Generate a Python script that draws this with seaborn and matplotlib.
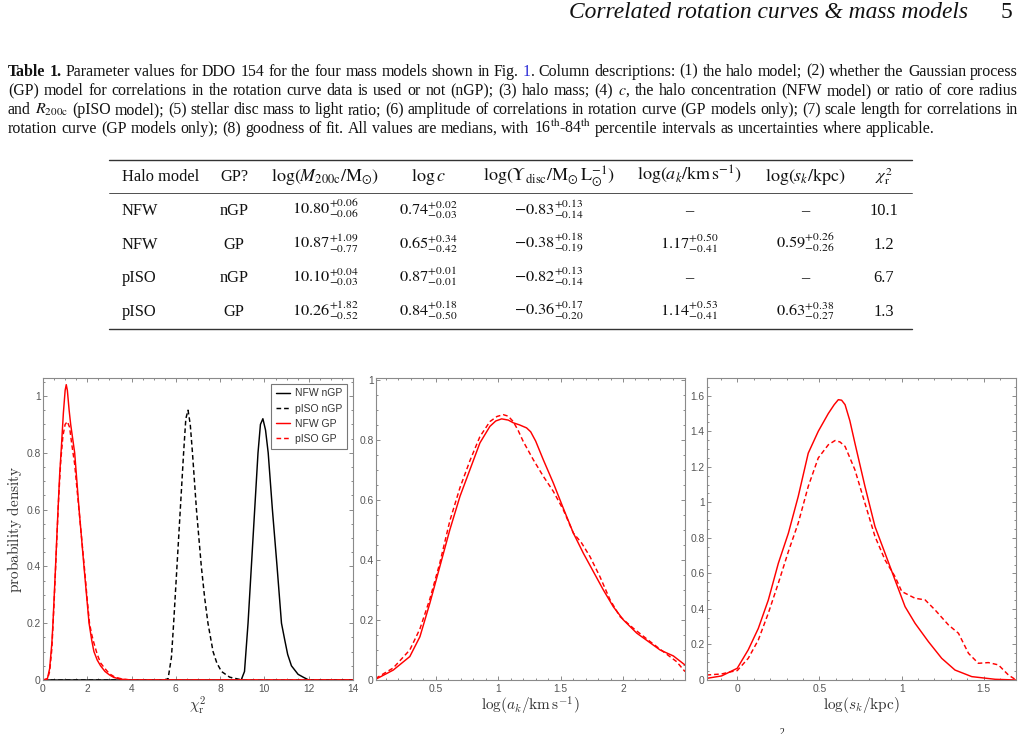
import re
import numpy as np
import pandas as pd
import matplotlib
matplotlib.use("Agg")
import matplotlib.pyplot as plt
import seaborn as sns
from matplotlib.lines import Line2D
from matplotlib.ticker import MultipleLocator, FuncFormatter

# ---------------------------------------------------------------- data
# Panel 1: posterior of reduced chi^2
chi2_nfw_ngp_x = [0, 8.95, 9.1, 9.26, 9.41, 9.56, 9.71, 9.82, 9.93, 10.05, 10.17, 10.36, 10.57, 10.77, 10.92, 11.05, 11.22, 11.52, 11.75, 12.0, 14]
chi2_nfw_ngp_y = [0, 0, 0.03, 0.2, 0.4, 0.6, 0.8, 0.9, 0.92, 0.88, 0.8, 0.6, 0.4, 0.2, 0.14, 0.09, 0.05, 0.02, 0.01, 0.0, 0]
chi2_piso_ngp_x = [0, 5.5, 5.65, 5.8, 5.9, 6.05, 6.2, 6.35, 6.45, 6.55, 6.65, 6.75, 6.93, 7.15, 7.3, 7.45, 7.68, 7.85, 8.06, 8.43, 9.0, 14]
chi2_piso_ngp_y = [0, 0, 0.005, 0.08, 0.2, 0.4, 0.6, 0.8, 0.92, 0.95, 0.9, 0.8, 0.6, 0.4, 0.29, 0.2, 0.1, 0.06, 0.03, 0.01, 0, 0]
chi2_nfw_gp_x = [0, 0.2, 0.3, 0.4, 0.45, 0.55, 0.65, 0.75, 0.83, 0.92, 1.0, 1.05, 1.1, 1.18, 1.25, 1.43, 1.63, 1.85, 2.08, 2.2, 2.3, 2.45, 2.6, 2.8, 3.0, 3.2, 3.5, 4.0, 14]
chi2_nfw_gp_y = [0, 0.005, 0.04, 0.13, 0.2, 0.37, 0.55, 0.72, 0.82, 0.94, 1.02, 1.04, 1.02, 0.95, 0.9, 0.8, 0.6, 0.4, 0.2, 0.14, 0.1, 0.07, 0.05, 0.03, 0.018, 0.009, 0.003, 0, 0]
chi2_piso_gp_x = [0, 0.2, 0.3, 0.4, 0.5, 0.6, 0.7, 0.8, 0.9, 1.0, 1.1, 1.2, 1.3, 1.43, 1.55, 1.66, 1.78, 1.9, 2.0, 2.1, 2.2, 2.3, 2.45, 2.6, 2.8, 3.0, 3.25, 3.6, 4.0, 14]
chi2_piso_gp_y = [0, 0.003, 0.03, 0.11, 0.27, 0.45, 0.63, 0.77, 0.86, 0.9, 0.91, 0.89, 0.83, 0.76, 0.66, 0.57, 0.47, 0.37, 0.28, 0.2, 0.16, 0.13, 0.09, 0.06, 0.04, 0.022, 0.01, 0.003, 0, 0]

# Panel 2: log(a_k / km s^-1)
ak_nfw_x = [0.016, 0.158, 0.291, 0.372, 0.452, 0.532, 0.612, 0.693, 0.773, 0.853, 0.933, 0.98, 1.027, 1.08, 1.12, 1.17, 1.227, 1.26, 1.3, 1.361, 1.441, 1.521, 1.602, 1.682, 1.762, 1.842, 1.922, 2.003, 2.11, 2.217, 2.297, 2.404, 2.497]
ak_nfw_y = [0.002, 0.033, 0.078, 0.144, 0.256, 0.378, 0.5, 0.611, 0.7, 0.789, 0.844, 0.862, 0.869, 0.865, 0.856, 0.849, 0.839, 0.826, 0.795, 0.733, 0.656, 0.572, 0.489, 0.422, 0.361, 0.3, 0.244, 0.2, 0.156, 0.124, 0.1, 0.08, 0.05]
ak_piso_x = [0.016, 0.158, 0.291, 0.372, 0.452, 0.532, 0.612, 0.693, 0.773, 0.853, 0.933, 0.99, 1.04, 1.08, 1.12, 1.16, 1.2, 1.281, 1.361, 1.441, 1.521, 1.602, 1.668, 1.735, 1.815, 1.896, 1.976, 2.083, 2.217, 2.324, 2.43, 2.497]
ak_piso_y = [0.005, 0.04, 0.1, 0.17, 0.27, 0.39, 0.53, 0.64, 0.73, 0.81, 0.86, 0.877, 0.883, 0.878, 0.86, 0.83, 0.794, 0.733, 0.678, 0.628, 0.567, 0.489, 0.456, 0.411, 0.344, 0.267, 0.211, 0.172, 0.128, 0.094, 0.061, 0.028]

# Panel 3: log(s_k / kpc)
sk_nfw_x = [-0.187, -0.095, 0.0, 0.067, 0.128, 0.189, 0.25, 0.311, 0.371, 0.432, 0.493, 0.554, 0.59, 0.615, 0.635, 0.656, 0.685, 0.716, 0.777, 0.838, 0.899, 0.96, 1.021, 1.082, 1.163, 1.244, 1.325, 1.427, 1.569, 1.697]
sk_nfw_y = [0.009, 0.023, 0.066, 0.17, 0.29, 0.45, 0.657, 0.826, 1.033, 1.277, 1.4, 1.5, 1.55, 1.578, 1.575, 1.55, 1.46, 1.333, 1.09, 0.864, 0.714, 0.563, 0.413, 0.319, 0.216, 0.122, 0.056, 0.019, 0.004, 0.0]
sk_piso_x = [-0.187, -0.095, -0.035, 0.0, 0.067, 0.128, 0.189, 0.25, 0.311, 0.371, 0.432, 0.493, 0.554, 0.595, 0.625, 0.656, 0.716, 0.777, 0.838, 0.899, 0.96, 1.001, 1.082, 1.143, 1.204, 1.285, 1.346, 1.407, 1.467, 1.528, 1.589, 1.65, 1.697]
sk_piso_y = [0.028, 0.034, 0.047, 0.053, 0.122, 0.225, 0.376, 0.545, 0.723, 0.883, 1.09, 1.25, 1.324, 1.348, 1.34, 1.315, 1.183, 0.995, 0.808, 0.676, 0.582, 0.498, 0.46, 0.451, 0.394, 0.31, 0.263, 0.15, 0.094, 0.098, 0.085, 0.028, 0.0]

legend_labels = ["NFW nGP", "pISO nGP", "NFW GP", "pISO GP"]

# Table 1
tab_halo = ["NFW", "NFW", "pISO", "pISO"]
tab_gp = ["nGP", "GP", "nGP", "GP"]
tab_logm_med = ["10.80", "10.87", "10.10", "10.26"]
tab_logm_up = ["0.06", "1.09", "0.04", "1.82"]
tab_logm_lo = ["0.06", "0.77", "0.03", "0.52"]
tab_logc_med = ["0.74", "0.65", "0.87", "0.84"]
tab_logc_up = ["0.02", "0.34", "0.01", "0.18"]
tab_logc_lo = ["0.03", "0.42", "0.01", "0.50"]
tab_logy_med = ["-0.83", "-0.38", "-0.82", "-0.36"]
tab_logy_up = ["0.13", "0.18", "0.13", "0.17"]
tab_logy_lo = ["0.14", "0.19", "0.14", "0.20"]
tab_logak_med = [None, "1.17", None, "1.14"]
tab_logak_up = [None, "0.50", None, "0.53"]
tab_logak_lo = [None, "0.41", None, "0.41"]
tab_logsk_med = [None, "0.59", None, "0.63"]
tab_logsk_up = [None, "0.26", None, "0.38"]
tab_logsk_lo = [None, "0.26", None, "0.27"]
tab_chi2 = ["10.1", "1.2", "6.7", "1.3"]
tab_headers = ["Halo model", "GP?", r"$\log(M_{200\mathrm{c}}/\mathrm{M}_{\odot})$", r"$\log c$",
               r"$\log(\Upsilon_{\mathrm{disc}}/\mathrm{M}_{\odot}\,\mathrm{L}_{\odot}^{-1})$",
               r"$\log(a_k/\mathrm{km\,s}^{-1})$", r"$\log(s_k/\mathrm{kpc})$", r"$\chi^2_{\mathrm{r}}$"]

header_title = "Correlated rotation curves & mass models"
page_number = "5"
caption_lines = [
    "**Table** **1.** Parameter values for DDO 154 for the four mass models shown in Fig. @@1@@. Column descriptions: (1) the halo model; (2) whether the Gaussian process",
    "(GP) model for correlations in the rotation curve data is used or not (nGP); (3) halo mass; (4) $c$, the halo concentration (NFW model) or ratio of core radius",
    "and $R_{\\mathrm{200c}}$ (pISO model); (5) stellar disc mass to light ratio; (6) amplitude of correlations in rotation curve (GP models only); (7) scale length for correlations in",
    "rotation curve (GP models only); (8) goodness of fit. All values are medians, with 16$^{\\mathrm{th}}$-84$^{\\mathrm{th}}$ percentile intervals as uncertainties where applicable.",
]

# ---------------------------------------------------------------- setup
sns.set_theme(style="white")
plt.rcParams['font.family'] = ['Liberation Sans', 'DejaVu Sans']
plt.rcParams['mathtext.fontset'] = 'stix'

W, H = 1025, 734
fig = plt.figure(figsize=(W / 100, H / 100), dpi=100)
fig.patch.set_facecolor('white')
renderer = fig.canvas.get_renderer()
SERIF = ['Liberation Serif', 'DejaVu Serif']
INK = '#111111'


def fx(x):
    return x / W


def fy(y):
    return 1 - y / H


def twidth(t):
    return t.get_window_extent(renderer=renderer).width


def fit_size(s, target, base=10, **kw):
    t = fig.text(0, 0, s, fontsize=base, **kw)
    w = twidth(t)
    t.remove()
    return base * target / w


# ---------------------------------------------------------------- running head
hsize = fit_size(header_title, 401, family=SERIF, style='italic')
fig.text(fx(968), fy(18), header_title, family=SERIF, style='italic', fontsize=hsize,
         ha='right', va='baseline', color=INK)
fig.text(fx(1012), fy(18), page_number, family=SERIF, fontsize=hsize, ha='right', va='baseline', color=INK)


# ---------------------------------------------------------------- caption
def parse_word(w):
    out = []
    for s in re.split(r'(\*\*[^*]+\*\*|@@[^@]+@@)', w):
        if not s:
            continue
        if s.startswith('**'):
            out.append((s[2:-2], dict(weight='bold', color=INK)))
        elif s.startswith('@@'):
            out.append((s[2:-2], dict(color='#2a2ad6')))
        else:
            out.append((s, dict(color=INK)))
    return out


def space_width(size):
    a = fig.text(0, 0, "a a", fontsize=size, family=SERIF)
    b = fig.text(0, 0, "aa", fontsize=size, family=SERIF)
    w = twidth(a) - twidth(b)
    a.remove(); b.remove()
    return w


def layout_line(line, size, y, x0, target=None):
    words = [parse_word(w) for w in line.split(' ')]
    rows, wsum = [], []
    for wd in words:
        row, tot = [], 0
        for s, kw in wd:
            t = fig.text(0, 0, s, fontsize=size, family=SERIF, va='baseline', ha='left', **kw)
            w = twidth(t)
            row.append((t, w))
            tot += w
        rows.append(row)
        wsum.append(tot)
    sp = space_width(size)
    natural = sum(wsum) + sp * (len(words) - 1)
    gap = (target - sum(wsum)) / (len(words) - 1) if target else sp
    x = x0
    arts = []
    for row in rows:
        for t, w in row:
            t.set_position((fx(x), fy(y)))
            arts.append(t)
            x += w
        x += gap
    return arts, natural


probe, nat = layout_line(caption_lines[3], 9, 0, 0)
for a in probe:
    a.remove()
csize = 9 * (932 - 8) / nat
cap_base = [75.5, 95, 114.3, 133]
for i, line in enumerate(caption_lines):
    layout_line(line, csize, cap_base[i], 8, target=(1018 - 8) if i < 3 else None)

# ---------------------------------------------------------------- table
tsize = fit_size("Halo model", 77, family=SERIF)


def rule(y, lw):
    fig.add_artist(Line2D([fx(109), fx(912)], [fy(y), fy(y)], transform=fig.transFigure,
                          color='#333333', lw=lw))


rule(160, 1.0)
rule(193, 0.6)
rule(329, 1.0)

col_x = [122, 234, 325, 428, 549, 689, 805, 884]
head_base = 181
fig.text(fx(col_x[0]), fy(head_base), tab_headers[0], family=SERIF, fontsize=tsize, ha='left', va='baseline', color=INK)
for j, (cx, hd) in enumerate(zip(col_x[1:], tab_headers[1:])):
    sz = tsize * 1.1 if (hd.startswith('$') and j < 6) else tsize
    fig.text(fx(cx), fy(head_base), hd, family=SERIF, fontsize=sz, ha='center', va='baseline', color=INK)


def val(med, up, lo):
    if med is None:
        return "\u2013"
    return "$%s^{+%s}_{-%s}$" % (med, up, lo)


row_base = [215, 248.7, 282.3, 316]
for i in range(4):
    yb = fy(row_base[i])
    fig.text(fx(col_x[0]), yb, tab_halo[i], family=SERIF, fontsize=tsize, ha='left', va='baseline', color=INK)
    cells = [tab_gp[i],
             val(tab_logm_med[i], tab_logm_up[i], tab_logm_lo[i]),
             val(tab_logc_med[i], tab_logc_up[i], tab_logc_lo[i]),
             val(tab_logy_med[i], tab_logy_up[i], tab_logy_lo[i]),
             val(tab_logak_med[i], tab_logak_up[i], tab_logak_lo[i]),
             val(tab_logsk_med[i], tab_logsk_up[i], tab_logsk_lo[i]),
             tab_chi2[i]]
    for cx, c in zip(col_x[1:], cells):
        fig.text(fx(cx), yb, c, family=SERIF, fontsize=tsize, ha='center', va='baseline', color=INK)

# ---------------------------------------------------------------- plots
def panel_rect(x0, x1, y0=378, y1=680):
    return [fx(x0), fy(y1), (x1 - x0) / W, (y1 - y0) / H]


def fmt(v, p):
    s = "%g" % round(v, 6)
    return "0" if s in ("-0", "0") else s


def style_axes(ax, xlim, ylim, xmaj, xmin, ymaj, ymin):
    ax.set_xlim(*xlim)
    ax.set_ylim(*ylim)
    ax.xaxis.set_major_locator(MultipleLocator(xmaj))
    ax.xaxis.set_minor_locator(MultipleLocator(xmin))
    ax.yaxis.set_major_locator(MultipleLocator(ymaj))
    ax.yaxis.set_minor_locator(MultipleLocator(ymin))
    ax.xaxis.set_major_formatter(FuncFormatter(fmt))
    ax.yaxis.set_major_formatter(FuncFormatter(fmt))
    ax.tick_params(which='both', direction='in', top=True, right=True, bottom=True, left=True,
                   color='#777777', labelcolor='#555555', labelsize=7.4, width=0.6)
    ax.tick_params(axis='x', which='both', pad=3)
    ax.tick_params(axis='y', which='both', pad=1.8)
    ax.tick_params(which='major', length=3)
    ax.tick_params(which='minor', length=1.6)
    for s in ax.spines.values():
        s.set_color('#8a8a8a')
        s.set_linewidth(0.8)
    ax.set_facecolor('white')
    ax.grid(False)


LW = 1.05
DASH = (0, (3.2, 2.0))
LABEL_Y = -0.05

ax1 = fig.add_axes(panel_rect(43, 353))
sns.lineplot(x=chi2_nfw_ngp_x, y=chi2_nfw_ngp_y, ax=ax1, color='black', lw=LW, estimator=None, sort=False)
sns.lineplot(x=chi2_piso_ngp_x, y=chi2_piso_ngp_y, ax=ax1, color='black', lw=LW, linestyle=DASH, estimator=None, sort=False)
sns.lineplot(x=chi2_nfw_gp_x, y=chi2_nfw_gp_y, ax=ax1, color='red', lw=LW, estimator=None, sort=False)
sns.lineplot(x=chi2_piso_gp_x, y=chi2_piso_gp_y, ax=ax1, color='red', lw=LW, linestyle=DASH, estimator=None, sort=False)
style_axes(ax1, (0, 14), (0, 1.0634), 2, 0.5, 0.2, 0.05)
ax1.set_xlabel(r"$\chi^2_{\mathrm{r}}$", fontsize=11, math_fontfamily='cm', color='#333333')
ax1.set_ylabel(r"$\mathrm{probability\ density}$", fontsize=11, math_fontfamily='cm', color='#333333')
ax1.xaxis.set_label_coords(0.5, LABEL_Y)
ax1.yaxis.set_label_coords(-0.062, 0.5)
handles = [Line2D([], [], color='black', lw=LW),
           Line2D([], [], color='black', lw=LW, linestyle=DASH),
           Line2D([], [], color='red', lw=LW),
           Line2D([], [], color='red', lw=LW, linestyle=DASH)]
leg = ax1.legend(handles, legend_labels, loc='upper right', fontsize=7.5, frameon=True, fancybox=False,
                 edgecolor='#777777', framealpha=1, borderaxespad=0.55, handlelength=1.4,
                 handletextpad=0.5, labelspacing=0.5, borderpad=0.45, labelcolor='#333333')
leg.get_frame().set_linewidth(0.8)

ax2 = fig.add_axes(panel_rect(376, 685))
sns.lineplot(x=ak_nfw_x, y=ak_nfw_y, ax=ax2, color='red', lw=LW, estimator=None, sort=False)
sns.lineplot(x=ak_piso_x, y=ak_piso_y, ax=ax2, color='red', lw=LW, linestyle=DASH, estimator=None, sort=False)
style_axes(ax2, (0.02, 2.497), (0, 1.005), 0.5, 0.1, 0.2, 0.05)
ax2.set_xlabel(r"$\log(a_k/\mathrm{km\,s}^{-1})$", fontsize=11, math_fontfamily='cm', color='#333333')
ax2.set_ylabel("")
ax2.xaxis.set_label_coords(0.5, LABEL_Y)

ax3 = fig.add_axes(panel_rect(707, 1016))
sns.lineplot(x=sk_nfw_x, y=sk_nfw_y, ax=ax3, color='red', lw=LW, estimator=None, sort=False)
sns.lineplot(x=sk_piso_x, y=sk_piso_y, ax=ax3, color='red', lw=LW, linestyle=DASH, estimator=None, sort=False)
style_axes(ax3, (-0.184, 1.696), (0, 1.70), 0.5, 0.1, 0.2, 0.05)
ax3.set_xlabel(r"$\log(s_k/\mathrm{kpc})$", fontsize=11, math_fontfamily='cm', color='#333333')
ax3.set_ylabel("")
ax3.xaxis.set_label_coords(0.5, LABEL_Y)

# cut-off superscript of the next caption line at the page bottom
fig.text(fx(780), fy(728), "2", family=SERIF, fontsize=7, ha='left', va='top', color=INK)

fig.savefig("out.png", dpi=100, facecolor='white')
